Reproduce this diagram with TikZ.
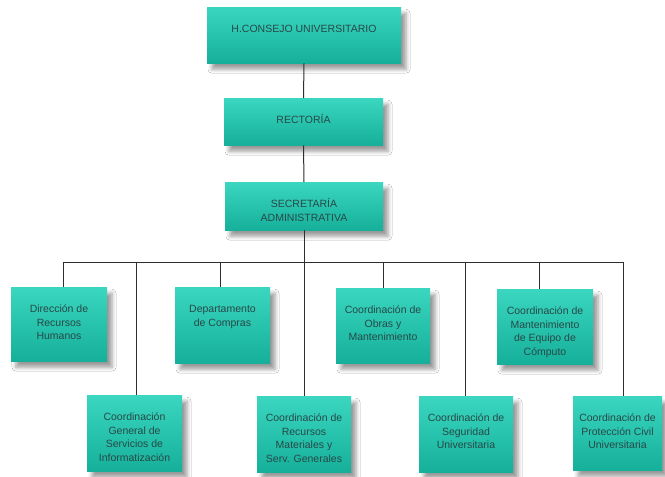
\documentclass[tikz,border=0pt]{standalone}
\usepackage{fontspec}
\setmainfont{Liberation Sans}
\usetikzlibrary{shadows.blur}
\definecolor{boxtop}{HTML}{3AD6BF}
\definecolor{boxmid}{HTML}{1FC2A8}
\definecolor{boxbot}{HTML}{16B09A}
\definecolor{txt}{HTML}{284848}
\definecolor{linec}{HTML}{2E2E2E}
\tikzset{
  orgbox/.style={draw=none, top color=boxtop, middle color=boxmid, bottom color=boxbot,
    blur shadow={shadow xshift=5pt, shadow yshift=-6pt, shadow blur radius=4pt, shadow opacity=40},
    anchor=north, inner sep=0pt},
  orglabel/.style={anchor=north, align=center, inner sep=0pt, text=txt,
    font=\fontsize{10.5}{13.5}\selectfont},
  conn/.style={draw=linec, line width=1pt}
}
\newcommand\orgnode[6]{%
  \node[orgbox, minimum width=#4pt, minimum height=#5pt] (#1) at (#2,#3) {};
  \node[orglabel] (#1-t) at ([yshift=-16.3pt]#1.north) {\strut #6};
}
\begin{document}
\begin{tikzpicture}[x=1pt,y=-1pt]
  \useasboundingbox[fill=white] (0,0) rectangle (665,477);
  \orgnode{consejo}{304}{7}{194}{56}{H.CONSEJO UNIVERSITARIO}
  \orgnode{rectoria}{303.5}{98}{159}{47}{RECTORÍA}
  \orgnode{secretaria}{304}{182}{158}{48}{SECRETARÍA\\ADMINISTRATIVA}
  \orgnode{dir}{59}{287}{96}{74}{Dirección de\\Recursos\\Humanos}
  \orgnode{depto}{222.5}{287}{95}{76}{Departamento\\de Compras}
  \orgnode{obras}{383}{288}{94}{75}{Coordinación de\\Obras y\\Mantenimiento}
  \orgnode{mant}{545}{289}{96}{75}{Coordinación de\\Mantenimiento\\de Equipo de\\Cómputo}
  \orgnode{cgen}{134.5}{395}{95}{76}{Coordinación\\General de\\Servicios de\\Informatización}
  \orgnode{recmat}{304}{396}{94}{76}{Coordinación de\\Recursos\\Materiales y\\Serv. Generales}
  \orgnode{seg}{466}{396}{94}{76}{Coordinación de\\Seguridad\\Universitaria}
  \orgnode{prot}{617.5}{396}{89}{74}{Coordinación de\\Protección Civil\\Universitaria}
  \coordinate (d1) at (63,262);
  \coordinate (d2) at (136,262);
  \coordinate (d3) at (220,262);
  \coordinate (d4) at (304,262);
  \coordinate (d5) at (383,262);
  \coordinate (d6) at (465,262);
  \coordinate (d7) at (539,262);
  \coordinate (d8) at (623,262);
  \draw[conn] (consejo.south) -- (rectoria.north);
  \draw[conn] (rectoria.south) -- (secretaria.north);
  \draw[conn] (secretaria.south) -- (d4);
  \draw[conn] (d1) -- (d8);
  \draw[conn] (d1) -- (d1 |- dir.north);
  \draw[conn] (d2) -- (d2 |- cgen.north);
  \draw[conn] (d3) -- (d3 |- depto.north);
  \draw[conn] (d4) -- (d4 |- recmat.north);
  \draw[conn] (d5) -- (d5 |- obras.north);
  \draw[conn] (d6) -- (d6 |- seg.north);
  \draw[conn] (d7) -- (d7 |- mant.north);
  \draw[conn] (d8) -- (d8 |- prot.north);
\end{tikzpicture}
\end{document}
